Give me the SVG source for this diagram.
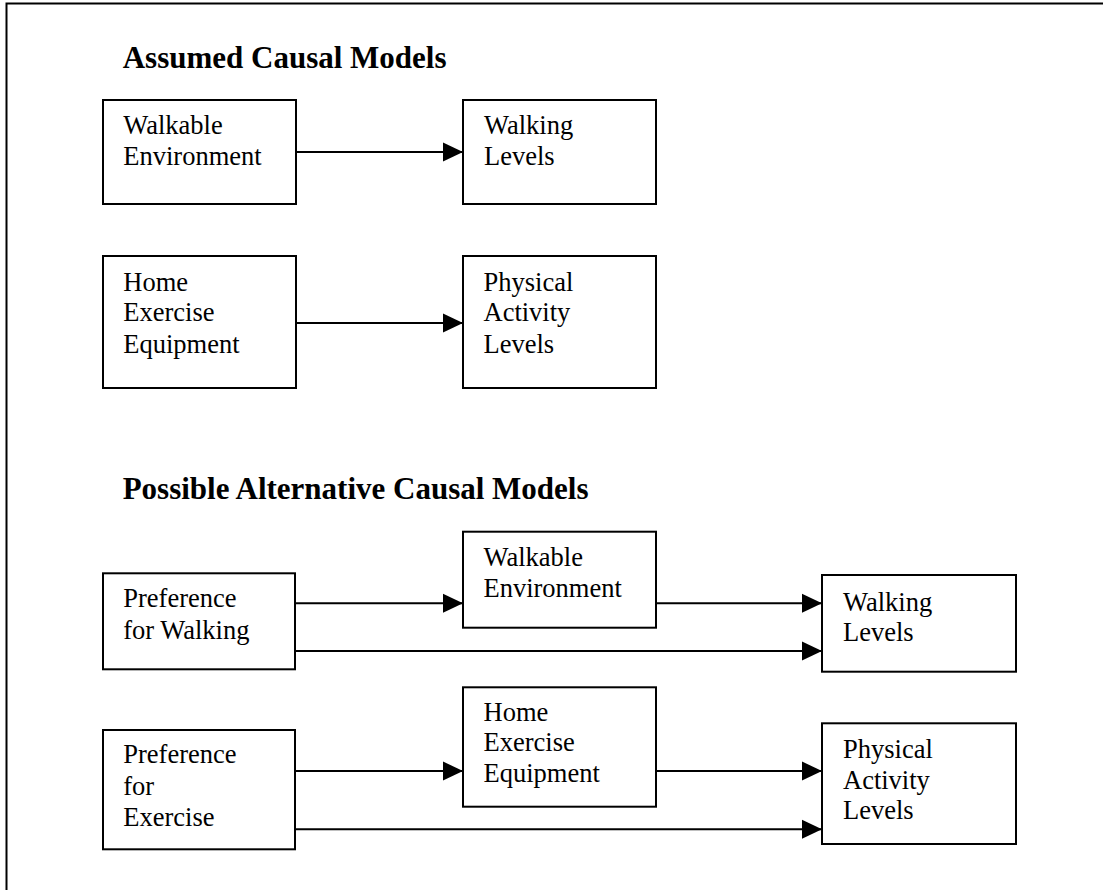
<svg xmlns="http://www.w3.org/2000/svg" width="1103" height="890" viewBox="0 0 1103 890">
<style>
.box{fill:#fff;stroke:#000;stroke-width:2}
.t{font-family:"Liberation Serif","Times New Roman",serif;font-size:26.5px;fill:#000}
.h{font-family:"Liberation Serif","Times New Roman",serif;font-size:31px;font-weight:bold;fill:#000}
.c{stroke:#000;stroke-width:2;fill:none;marker-end:url(#ah)}
</style>
<defs>
<marker id="ah" markerUnits="userSpaceOnUse" markerWidth="20" markerHeight="20" refX="20" refY="10" orient="auto">
<path d="M0,0.5 L20,10 L0,19.5 Z" fill="#000"/>
</marker>
</defs>
<rect width="1103" height="890" fill="#fff"/>
<path d="M6.5,890 V3.5 H1103" fill="none" stroke="#000" stroke-width="2"/>
<text class="h" x="122.7" y="67.7">Assumed Causal Models</text>
<text class="h" x="122.7" y="499.3">Possible Alternative Causal Models</text>
<g id="connectors">
<line class="c" x1="296" y1="152" x2="463" y2="152"/>
<line class="c" x1="296" y1="323" x2="463" y2="323"/>
<line class="c" x1="295" y1="603.3" x2="463" y2="603.3"/>
<line class="c" x1="656" y1="603.3" x2="822" y2="603.3"/>
<line class="c" x1="295" y1="651" x2="822" y2="651"/>
<line class="c" x1="295" y1="771" x2="463" y2="771"/>
<line class="c" x1="656" y1="771" x2="822" y2="771"/>
<line class="c" x1="295" y1="829.3" x2="822" y2="829.3"/>
</g>
<g id="n1"><rect class="box" x="103" y="100" width="193" height="104"/>
<text class="t" x="123.3" y="134.3">Walkable</text><text class="t" x="123.3" y="165">Environment</text></g>
<g id="n2"><rect class="box" x="463" y="100" width="193" height="104"/>
<text class="t" x="484" y="133.5">Walking</text><text class="t" x="484" y="165">Levels</text></g>
<g id="n3"><rect class="box" x="103" y="256" width="193" height="132"/>
<text class="t" x="123.3" y="290.7">Home</text><text class="t" x="123.3" y="321">Exercise</text><text class="t" x="123.3" y="352.7">Equipment</text></g>
<g id="n4"><rect class="box" x="463" y="256" width="193" height="132"/>
<text class="t" x="483.5" y="290.7">Physical</text><text class="t" x="483.5" y="321">Activity</text><text class="t" x="483.5" y="352.7">Levels</text></g>
<g id="n5"><rect class="box" x="103" y="573.3" width="192" height="96"/>
<text class="t" x="123.3" y="607.3">Preference</text><text class="t" x="123.3" y="639">for Walking</text></g>
<g id="n6"><rect class="box" x="463" y="531.7" width="193" height="96"/>
<text class="t" x="483.5" y="565.5">Walkable</text><text class="t" x="483.5" y="596.5">Environment</text></g>
<g id="n7"><rect class="box" x="103" y="730" width="192" height="119.3"/>
<text class="t" x="123.3" y="762.7">Preference</text><text class="t" x="123.3" y="795">for</text><text class="t" x="123.3" y="826">Exercise</text></g>
<g id="n8"><rect class="box" x="463" y="687.3" width="193" height="119.4"/>
<text class="t" x="483.5" y="720.5">Home</text><text class="t" x="483.5" y="751">Exercise</text><text class="t" x="483.5" y="782">Equipment</text></g>
<g id="n9"><rect class="box" x="822" y="575" width="194" height="96.7"/>
<text class="t" x="843" y="610.5">Walking</text><text class="t" x="843" y="640.7">Levels</text></g>
<g id="n10"><rect class="box" x="822" y="723.3" width="194" height="120.7"/>
<text class="t" x="843" y="758">Physical</text><text class="t" x="843" y="788.5">Activity</text><text class="t" x="843" y="819">Levels</text></g>
</svg>
